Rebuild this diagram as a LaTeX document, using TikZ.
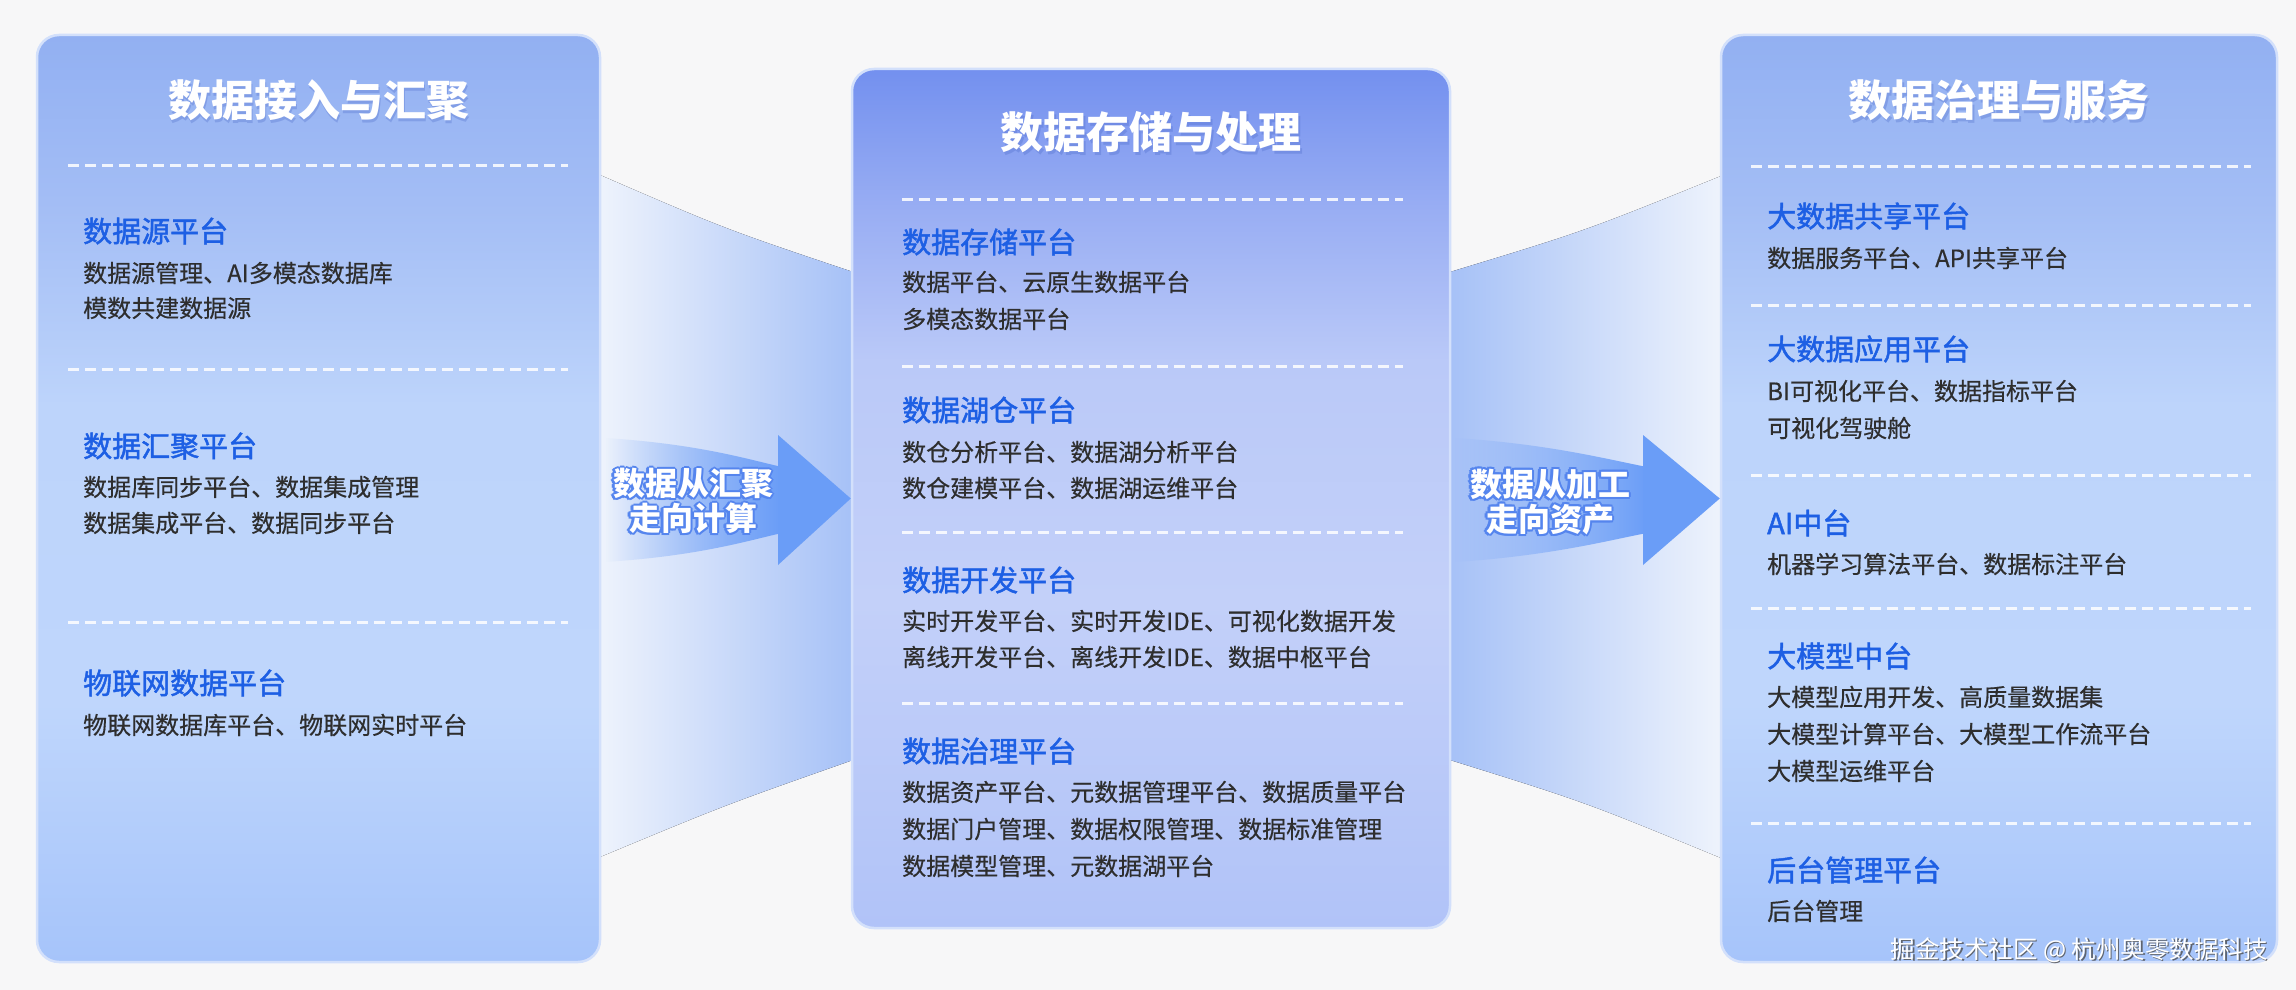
\documentclass[tikz,border=0pt]{standalone}
\usepackage{fontspec}
\setmainfont{Noto Sans CJK SC}
\newfontfamily\bodyfnt[FakeBold=0.4]{Noto Sans CJK SC}
\newfontfamily\headfnt[FakeBold=1.6]{Noto Sans CJK SC}
\usetikzlibrary{fadings,calc}
\definecolor{bg}{HTML}{F7F7F8}
\definecolor{lpT}{HTML}{92B0F2}
\definecolor{lpT2}{HTML}{A3BDF5}
\definecolor{lpM1}{HTML}{BDD4FB}
\definecolor{lpM2}{HTML}{BFD6FC}
\definecolor{lpB}{HTML}{A6C4FA}
\definecolor{mpT}{HTML}{7390EF}
\definecolor{mpT2}{HTML}{98ADF3}
\definecolor{mpM1}{HTML}{BAC9F8}
\definecolor{mpM2}{HTML}{C3D0F9}
\definecolor{mpB}{HTML}{B1C3F8}
\definecolor{pborder}{HTML}{D3E0FB}
\definecolor{headblue}{HTML}{1D5FE4}
\definecolor{bodygray}{HTML}{2E2E2E}
\definecolor{arrowblue}{HTML}{6A9DF7}
\definecolor{outl}{HTML}{5585EE}
\definecolor{tshadow}{HTML}{4A68C8}
\definecolor{fLight}{HTML}{EEF3FC}
\definecolor{fBlue}{HTML}{A6C1F7}
\pgfdeclareverticalshading{lpanel}{100bp}{color(0bp)=(lpB); color(25bp)=(lpB); color(39bp)=(lpM2); color(55bp)=(lpM1); color(66bp)=(lpT2); color(75bp)=(lpT); color(100bp)=(lpT)}
\pgfdeclareverticalshading{mpanel}{100bp}{color(0bp)=(mpB); color(25bp)=(mpB); color(44bp)=(mpM2); color(58bp)=(mpM1); color(67bp)=(mpT2); color(75bp)=(mpT); color(100bp)=(mpT)}
\tikzfading[name=fadeinright, left color=transparent!100, right color=transparent!0]
\begin{document}
\begin{tikzpicture}[x=1pt,y=-1pt,
  panel/.style={draw=pborder, line width=2.5pt, rounded corners=22pt, inner sep=0pt},
  titletxt/.style={inner sep=0pt, font=\fontsize{43}{50}\selectfont\bfseries},
  headtxt/.style={anchor=west, inner sep=0pt, font=\headfnt\fontsize{29}{34}\selectfont, text=headblue},
  bodytxt/.style={anchor=west, inner sep=0pt, font=\bodyfnt\fontsize{24}{30}\selectfont, text=bodygray},
  sepline/.style={draw=white, draw opacity=0.85, line width=3pt, dash pattern=on 11pt off 6pt},
  arrowtxt/.style={inner sep=0pt, align=center, font=\fontsize{32}{35}\selectfont\bfseries},
  wmark/.style={anchor=east, inner sep=0pt, font=\fontsize{24.5}{28}\selectfont}
]
\useasboundingbox[fill=bg] (0,0) rectangle (2296,990);

% funnels
\fill[left color=fLight, right color=fBlue] (600,175) .. controls (725,229) .. (853,272) -- (853,760) .. controls (725,805) .. (600,857) -- cycle;
\fill[left color=fBlue, right color=fLight] (1450,272) .. controls (1585,231) .. (1721,176) -- (1721,858) .. controls (1585,802) .. (1450,760) -- cycle;

% panels
\node[panel, shading=lpanel, minimum width=563pt, minimum height=927pt] (P1) at (318.5,498.5) {};
\node[panel, shading=mpanel, minimum width=598pt, minimum height=859pt] (P2) at (1151,498.5) {};
\node[panel, shading=lpanel, minimum width=556pt, minimum height=927pt] (P3) at (1999,498.5) {};

% titles
\node[titletxt, text=tshadow, opacity=0.3] (T1s) at (320,103) {数据接入与汇聚};
\node[titletxt, text=white] (T1) at (318.5,100) {数据接入与汇聚};
\node[titletxt, text=tshadow, opacity=0.3] (T2s) at (1152.5,135) {数据存储与处理};
\node[titletxt, text=white] (T2) at (1151,132) {数据存储与处理};
\node[titletxt, text=tshadow, opacity=0.3] (T3s) at (2000.5,103) {数据治理与服务};
\node[titletxt, text=white] (T3) at (1999,100) {数据治理与服务};

% separators left
\foreach \yy in {165,369,622} \draw[sepline] (68,\yy) -- (568,\yy);
% separators middle
\foreach \yy in {199,366,532,703} \draw[sepline] (902,\yy) -- (1403,\yy);
% separators right
\foreach \yy in {166,305,475,608,823} \draw[sepline] (1751,\yy) -- (2251,\yy);

% left panel content
\node[headtxt] (L1h) at (83,231) {数据源平台};
\node[bodytxt] (L1a) at (83,273) {数据源管理、AI多模态数据库};
\node[bodytxt] (L1b) at (83,308) {模数共建数据源};
\node[headtxt] (L2h) at (83,446) {数据汇聚平台};
\node[bodytxt] (L2a) at (83,487) {数据库同步平台、数据集成管理};
\node[bodytxt] (L2b) at (83,523) {数据集成平台、数据同步平台};
\node[headtxt] (L3h) at (83,683) {物联网数据平台};
\node[bodytxt] (L3a) at (83,725) {物联网数据库平台、物联网实时平台};

% middle panel content
\node[headtxt] (M1h) at (902,242) {数据存储平台};
\node[bodytxt] (M1a) at (902,282) {数据平台、云原生数据平台};
\node[bodytxt] (M1b) at (902,319) {多模态数据平台};
\node[headtxt] (M2h) at (902,410) {数据湖仓平台};
\node[bodytxt] (M2a) at (902,452) {数仓分析平台、数据湖分析平台};
\node[bodytxt] (M2b) at (902,488) {数仓建模平台、数据湖运维平台};
\node[headtxt] (M3h) at (902,580) {数据开发平台};
\node[bodytxt] (M3a) at (902,621) {实时开发平台、实时开发IDE、可视化数据开发};
\node[bodytxt] (M3b) at (902,657) {离线开发平台、离线开发IDE、数据中枢平台};
\node[headtxt] (M4h) at (902,751) {数据治理平台};
\node[bodytxt] (M4a) at (902,792) {数据资产平台、元数据管理平台、数据质量平台};
\node[bodytxt] (M4b) at (902,829) {数据门户管理、数据权限管理、数据标准管理};
\node[bodytxt] (M4c) at (902,866) {数据模型管理、元数据湖平台};

% right panel content
\node[headtxt] (R1h) at (1767,216) {大数据共享平台};
\node[bodytxt] (R1a) at (1767,258) {数据服务平台、API共享平台};
\node[headtxt] (R2h) at (1767,349) {大数据应用平台};
\node[bodytxt] (R2a) at (1767,391) {BI可视化平台、数据指标平台};
\node[bodytxt] (R2b) at (1767,428) {可视化驾驶舱};
\node[headtxt] (R3h) at (1767,523) {AI中台};
\node[bodytxt] (R3a) at (1767,564) {机器学习算法平台、数据标注平台};
\node[headtxt] (R4h) at (1767,656) {大模型中台};
\node[bodytxt] (R4a) at (1767,697) {大模型应用开发、高质量数据集};
\node[bodytxt] (R4b) at (1767,734) {大模型计算平台、大模型工作流平台};
\node[bodytxt] (R4c) at (1767,771) {大模型运维平台};
\node[headtxt] (R5h) at (1767,870) {后台管理平台};
\node[bodytxt] (R5a) at (1767,911) {后台管理};

% arrow 1
\fill[arrowblue, path fading=fadeinright] (605,438) .. controls (700,444) and (750,460) .. (782,467) -- (782,533) .. controls (750,540) and (700,556) .. (605,562) -- cycle;
\fill[arrowblue] (778,435) -- (P2.west) -- (778,565) -- cycle;
% arrow 2
\fill[arrowblue, path fading=fadeinright] (1455,438) .. controls (1550,444) and (1610,460) .. (1647,467) -- (1647,533) .. controls (1610,540) and (1550,556) .. (1455,562) -- cycle;
\fill[arrowblue] (1643,435) -- (P3.west) -- (1643,565) -- cycle;

% arrow texts with outline
\coordinate (A1t) at (693,501);
\coordinate (A2t) at (1550,502);
\foreach \dx/\dy [count=\i] in {-2.2/0,2.2/0,0/-2.2,0/2.2,-1.6/-1.6,1.6/1.6,-1.6/1.6,1.6/-1.6} {
  \node[arrowtxt, text=outl] (A1o\i) at ($(A1t)+(\dx,\dy)$) {数据从汇聚\\走向计算};
  \node[arrowtxt, text=outl] (A2o\i) at ($(A2t)+(\dx,\dy)$) {数据从加工\\走向资产};
}
\node[arrowtxt, text=white] (A1) at (A1t) {数据从汇聚\\走向计算};
\node[arrowtxt, text=white] (A2) at (A2t) {数据从加工\\走向资产};

% watermark
\node[wmark, text=black!70, opacity=0.8] (Ws) at (2269.5,951.5) {掘金技术社区 @ 杭州奥零数据科技};
\node[wmark, text=white] (W) at (2268,950) {掘金技术社区 @ 杭州奥零数据科技};
\end{tikzpicture}
\end{document}
